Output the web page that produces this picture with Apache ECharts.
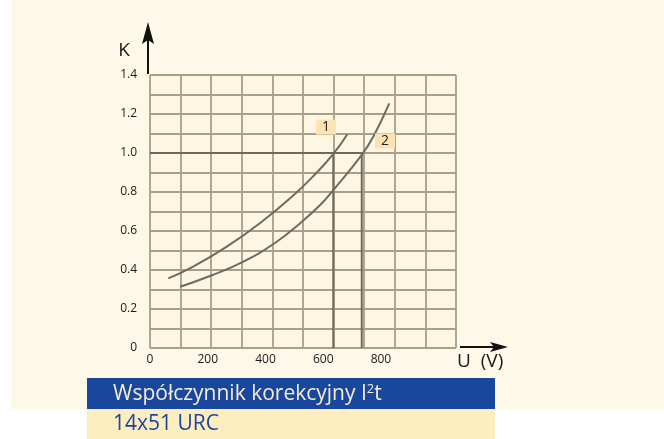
<!DOCTYPE html>
<html>
<head>
<meta charset="utf-8">
<script src="https://cdn.jsdelivr.net/npm/echarts@6/dist/echarts.min.js"></script>
<style>
  html, body { margin: 0; background: #fff; }
  #wrap { position: relative; width: 664px; height: 439px; }
  #paper { position: absolute; left: 11px; top: 0; width: 653px; height: 409px; background: #fef8e8; }
  #chart { position: absolute; left: 0; top: 0; width: 664px; height: 439px; }
</style>
</head>
<body>
<div id="wrap"><div id="paper"></div><div id="chart"></div></div>
<script>
// curve 1 and 2: correction factor K vs voltage U (V)
var curve1U = [60, 141, 251, 359, 468, 545, 599, 645]
var curve1K = [0.357, 0.417, 0.520, 0.640, 0.782, 0.900, 0.995, 1.096]
var curve2U = [98, 196, 305, 414, 490, 556, 599, 692, 730, 782]
var curve2K = [0.314, 0.369, 0.443, 0.545, 0.639, 0.733, 0.810, 0.990, 1.085, 1.255]

// reference lines where K = 1.0
var refK = 1.0
var refU1 = 599
var refU2 = 692

var xTickLabels = ['0', '200', '400', '600', '800']
var yTickLabels = ['0', '0.2', '0.4', '0.6', '0.8', '1.0', '1.2', '1.4']
var curveNames = ['1', '2']
var titleText = 'Współczynnik korekcyjny I'
var subText = '14x51 URC'

function pairs(us, ks) {
  return us.map(function (u, i) { return [u, ks[i]] })
}

var chart = echarts.init(document.getElementById('chart'))

var gridLine = { color: '#a89f8a', width: 1.8 }
var curveColor = '#6d6b66'
var tagStyle = {
  show: true,
  position: 'inside',
  color: '#222',
  fontSize: 14,
  fontFamily: 'Open Sans',
  backgroundColor: '#fde2b3',
  padding: [1, 6, 0, 6]
}

chart.setOption({
  animation: false,
  grid: {
    left: 150, top: 75, right: 208, bottom: 91,
    show: true, backgroundColor: '#fcf6e3', borderWidth: 0
  },
  xAxis: [
    {
      type: 'value', min: 0, max: 1000, interval: 100,
      axisLine: { show: false }, axisTick: { show: false },
      axisLabel: { show: false },
      splitLine: { show: true, lineStyle: gridLine }
    },
    {
      // tick label scale as printed on the original chart
      type: 'value', min: 0, max: 1060, interval: 200, position: 'bottom',
      axisLine: { show: false }, axisTick: { show: false },
      splitLine: { show: false },
      axisLabel: {
        margin: 6, color: '#1a1a1a', fontSize: 12, fontFamily: 'Open Sans',
        formatter: function (v) { return xTickLabels[v / 200] || '' }
      }
    }
  ],
  yAxis: {
    type: 'value', min: 0, max: 1.4, interval: 0.1,
    axisLine: { show: false }, axisTick: { show: false },
    splitLine: { show: true, lineStyle: gridLine },
    axisLabel: {
      margin: 13, color: '#1a1a1a', fontSize: 12, fontFamily: 'Open Sans',
      formatter: function (v) {
        var i = Math.round(v * 10)
        return i % 2 === 0 ? yTickLabels[i / 2] : ''
      }
    }
  },
  series: [
    {
      name: curveNames[0], type: 'line', smooth: 0.5, symbol: 'none',
      data: pairs(curve1U, curve1K),
      lineStyle: { color: curveColor, width: 2 },
      markPoint: {
        symbol: 'rect', symbolSize: 0,
        label: Object.assign({ formatter: curveNames[0] }, tagStyle),
        data: [{ coord: [575, 1.133] }]
      }
    },
    {
      name: curveNames[1], type: 'line', smooth: 0.5, symbol: 'none',
      data: pairs(curve2U, curve2K),
      lineStyle: { color: curveColor, width: 2 },
      markPoint: {
        symbol: 'rect', symbolSize: 0,
        label: Object.assign({ formatter: curveNames[1] }, tagStyle),
        data: [{ coord: [768, 1.062] }]
      }
    },
    {
      type: 'line', symbol: 'none',
      data: [[0, refK], [refU2, refK], [refU2, 0]],
      lineStyle: { color: '#6e695e', width: 2 }
    },
    {
      type: 'line', symbol: 'none',
      data: [[refU1, refK], [refU1, 0]],
      lineStyle: { color: '#6e695e', width: 2 }
    }
  ],
  graphic: [
    // axis arrows and names
    { type: 'line', shape: { x1: 148, y1: 74, x2: 148, y2: 40 }, style: { stroke: '#111', lineWidth: 2 } },
    { type: 'polygon', shape: { points: [[148, 22], [142, 44], [148, 40], [154, 44]] }, style: { fill: '#111' } },
    { type: 'text', x: 124, y: 51, style: { text: 'K', font: '19px "Open Sans"', fill: '#1a1a1a', align: 'center', verticalAlign: 'middle' } },
    { type: 'line', shape: { x1: 460, y1: 347, x2: 498, y2: 347 }, style: { stroke: '#111', lineWidth: 2 } },
    { type: 'polygon', shape: { points: [[508, 347], [490, 342], [494, 347], [490, 352]] }, style: { fill: '#111' } },
    { type: 'text', x: 457, y: 362, style: { text: 'U  (V)', font: '19px "Open Sans"', fill: '#1a1a1a', verticalAlign: 'middle' } },
    // caption bands
    { type: 'rect', shape: { x: 87, y: 378, width: 408, height: 31 }, style: { fill: '#1a479e' } },
    { type: 'rect', shape: { x: 87, y: 409, width: 408, height: 30 }, style: { fill: '#feedbf' } },
    {
      type: 'text', x: 113, y: 394,
      style: {
        text: '{a|' + titleText + '}{s|2}{a|t}',
        verticalAlign: 'middle',
        rich: {
          a: { font: '21px "Open Sans"', fill: '#f6edcf', color: '#f6edcf' },
          s: { font: '13px "Open Sans"', fill: '#f6edcf', color: '#f6edcf', verticalAlign: 'top', padding: [0, 0, 9, 0] }
        }
      }
    },
    { type: 'text', x: 113, y: 424, style: { text: subText, font: '21px "Open Sans"', fill: '#1a479e', verticalAlign: 'middle' } }
  ]
})
</script>
</body>
</html>
